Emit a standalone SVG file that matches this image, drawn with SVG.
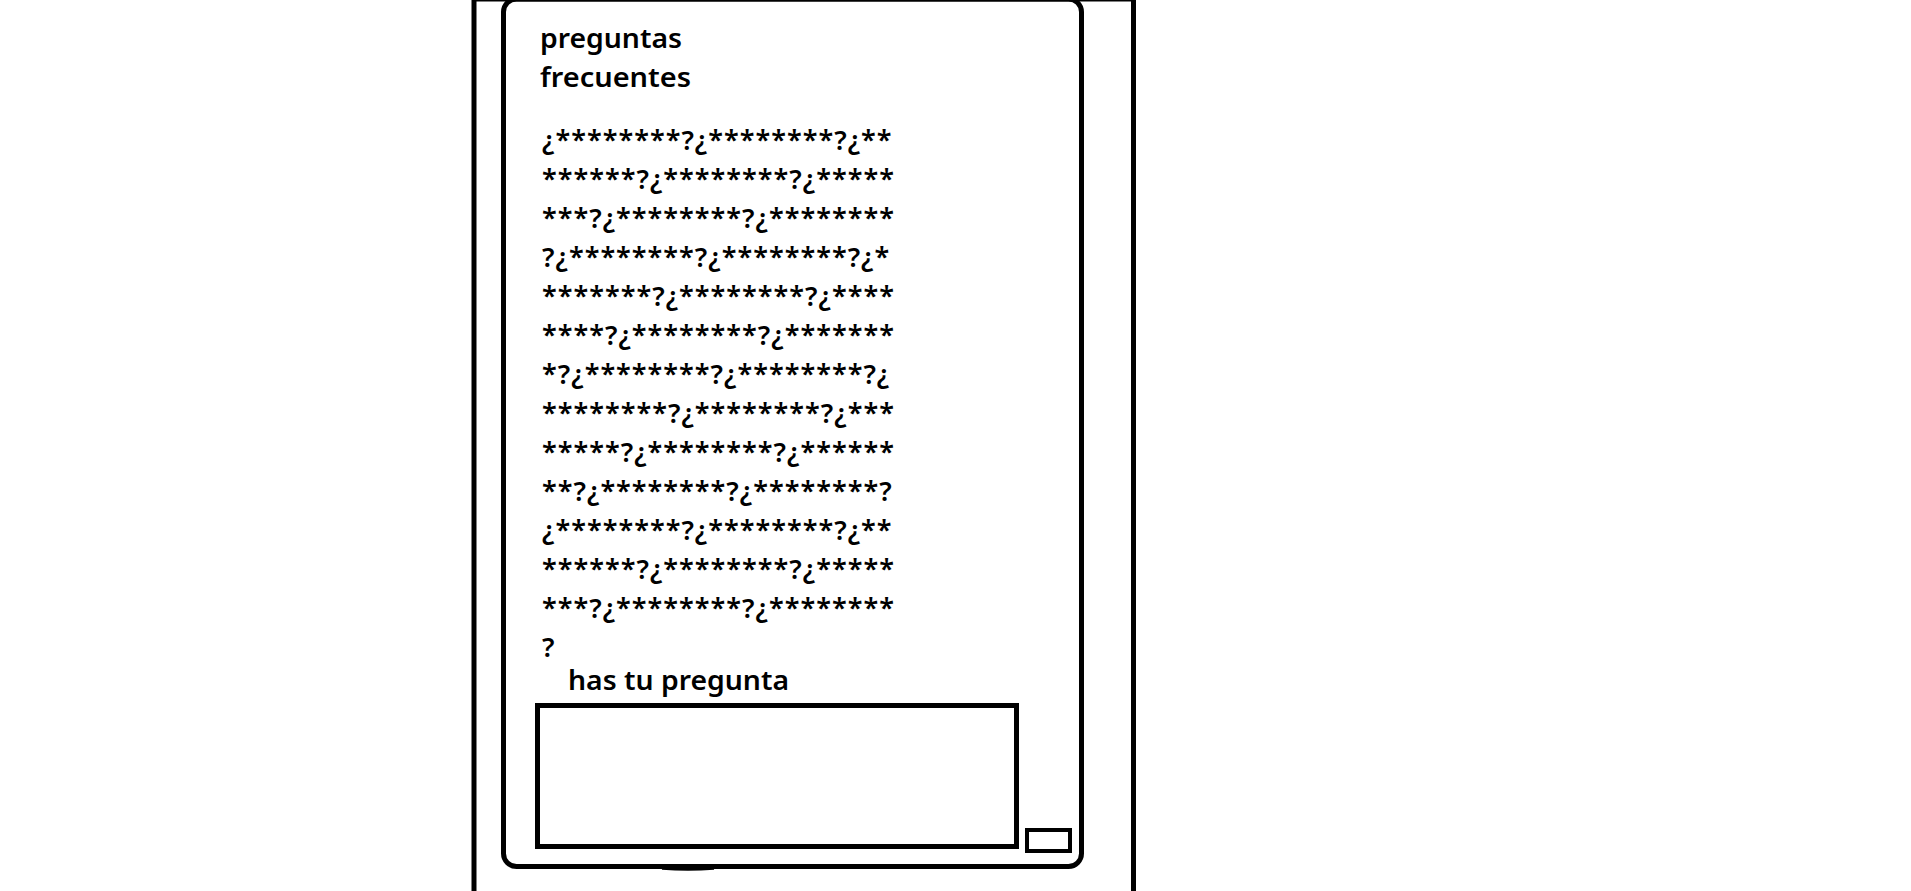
<svg xmlns="http://www.w3.org/2000/svg" width="1911" height="891" viewBox="0 0 1911 891">
<style>
.ln{fill:none;stroke:#000;stroke-width:5}
.t{font-family:"Noto Sans","Open Sans","Liberation Sans",sans-serif;font-size:27px;font-weight:600;fill:#000}
.q{letter-spacing:1px}
</style>
<rect width="1911" height="891" fill="#fff"/>
<g id="frame">
<rect class="ln" x="474" y="-1" width="659.5" height="905"/>
</g>
<g id="screen">
<rect class="ln" x="503.5" y="-1" width="578" height="867.5" rx="13" ry="13"/>
<path d="M662 868.5 Q688 870.5 714 868.5" fill="none" stroke="#000" stroke-width="2.5"/>
</g>
<g id="title">
<text class="t" x="540" y="48" textLength="142" lengthAdjust="spacingAndGlyphs">preguntas</text>
<text class="t" x="540" y="87" textLength="151" lengthAdjust="spacingAndGlyphs">frecuentes</text>
</g>
<g id="faq" class="t q">
<text x="542" y="149.5">¿********?¿********?¿**</text>
<text x="542" y="188.5">******?¿********?¿*****</text>
<text x="542" y="227.5">***?¿********?¿********</text>
<text x="542" y="266.5">?¿********?¿********?¿*</text>
<text x="542" y="305.5">*******?¿********?¿****</text>
<text x="542" y="344.5">****?¿********?¿*******</text>
<text x="542" y="383.5">*?¿********?¿********?¿</text>
<text x="542" y="422.5">********?¿********?¿***</text>
<text x="542" y="461.5">*****?¿********?¿******</text>
<text x="542" y="500.5">**?¿********?¿********?</text>
<text x="542" y="539.5">¿********?¿********?¿**</text>
<text x="542" y="578.5">******?¿********?¿*****</text>
<text x="542" y="617.5">***?¿********?¿********</text>
<text x="542" y="656.5">?</text>
</g>
<g id="ask">
<text class="t" x="568" y="690" textLength="221" lengthAdjust="spacingAndGlyphs">has tu pregunta</text>
<rect class="ln" x="537.5" y="705.5" width="479" height="141"/>
</g>
<g id="send">
<rect x="1027" y="830" width="43" height="21" fill="none" stroke="#000" stroke-width="4"/>
</g>
<g id="connectors"></g>
</svg>
